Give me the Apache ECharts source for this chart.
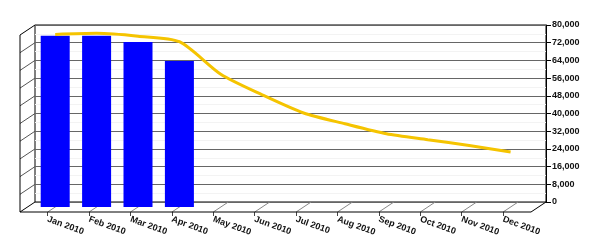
<!DOCTYPE html>
<html><head><meta charset="utf-8">
<script src="https://cdn.jsdelivr.net/npm/echarts@6/dist/echarts.min.js"></script>
<style>html,body{margin:0;padding:0;background:#fff}#c{width:600px;height:250px}</style>
</head><body><div id="c"></div>
<script>
const categories = ['Jan 2010','Feb 2010','Mar 2010','Apr 2010','May 2010','Jun 2010','Jul 2010','Aug 2010','Sep 2010','Oct 2010','Nov 2010','Dec 2010'];
const barValues = [77400, 77400, 74600, 66000, null, null, null, null, null, null, null, null];
const lineValues = [78000, 78500, 77200, 74700, 60000, 50700, 42500, 37600, 33100, 30400, 27800, 24900];
const yTicks = [0, 8000, 16000, 24000, 32000, 40000, 48000, 56000, 64000, 72000, 80000];

const DX = 15, DY = 10;
const back = {left: 35, top: 25, width: 511, height: 177};
const mid = {left: 34.5, top: 30, width: 496.8, height: 177};
const front = {left: 27, top: 35, width: 496.8, height: 177};
const font = '"Liberation Sans", Arial, sans-serif';
const yMin = yTicks[0], yMax = yTicks[yTicks.length - 1], yStep = yTicks[1] - yTicks[0];

function seg(x1, y1, x2, y2, color) {
  return {type: 'line', shape: {x1, y1, x2, y2}, style: {stroke: color, lineWidth: 1}};
}

const chart = echarts.init(document.getElementById('c'), null, {renderer: 'canvas'});
chart.setOption({
  animation: false,
  backgroundColor: '#fff',
  grid: [
    Object.assign({show: true, borderColor: '#000', borderWidth: 1, backgroundColor: '#fff', outerBoundsMode: 'none', containLabel: false}, back),
    Object.assign({outerBoundsMode: 'none', containLabel: false}, mid),
    Object.assign({outerBoundsMode: 'none', containLabel: false}, front)
  ],
  xAxis: [
    {gridIndex: 0, type: 'category', data: categories, show: false},
    {gridIndex: 1, type: 'category', data: categories, show: false},
    {gridIndex: 2, type: 'category', data: categories,
      axisLine: {show: false},
      axisTick: {show: true, alignWithLabel: true, length: 4, lineStyle: {color: '#444'}},
      axisLabel: {rotate: -20, margin: 7, fontSize: 9, fontWeight: 'bold', fontFamily: font, color: '#111', interval: 0},
      splitLine: {show: false}}
  ],
  yAxis: [
    {gridIndex: 0, type: 'value', min: yMin, max: yMax, interval: yStep, position: 'right',
      axisLine: {show: true, lineStyle: {color: '#000'}},
      axisTick: {show: true, length: 5, lineStyle: {color: '#000'}},
      axisLabel: {margin: 6, fontSize: 9, fontWeight: 'bold', fontFamily: font, color: '#111',
        formatter: v => v.toLocaleString('en-US')},
      splitLine: {show: true, lineStyle: {color: '#666'}},
      minorTick: {show: false, splitNumber: 2},
      minorSplitLine: {show: true, lineStyle: {color: '#f3f3f3'}}},
    {gridIndex: 1, type: 'value', min: yMin, max: yMax, show: false, splitLine: {show: false}},
    {gridIndex: 2, type: 'value', min: yMin, max: yMax, show: false, splitLine: {show: false}}
  ],
  series: [
    {type: 'custom', xAxisIndex: 0, yAxisIndex: 0, clip: false, silent: true, z: 1,
      data: yTicks.slice(1, -1).map(v => [0, v]),
      renderItem: (params, api) => {
        const cs = params.coordSys;
        const p = api.coord([0, api.value(1)]);
        return seg(cs.x - DX, p[1] + DY, cs.x, p[1], '#555');
      }},
    {type: 'custom', xAxisIndex: 2, yAxisIndex: 2, clip: false, silent: true, z: 1,
      data: categories.map((c, i) => [i, 0]),
      renderItem: (params, api) => {
        const p = api.coord([api.value(0), 0]);
        return seg(p[0], p[1], p[0] + DX, p[1] - DY, '#888');
      }},
    {type: 'custom', xAxisIndex: 0, yAxisIndex: 0, clip: false, silent: true, z: 4,
      data: [[0, 0]],
      renderItem: (params, api) => {
        const cs = params.coordSys;
        const x = cs.x, y = cs.y, w = cs.width, h = cs.height;
        return {type: 'group', children: [
          seg(x - DX, y + DY, x - DX, y + h + DY, '#000'),
          seg(x - DX, y + DY, x, y, '#000'),
          seg(x - DX, y + h + DY, x, y + h, '#000'),
          seg(x - DX, y + h + DY, x + w - DX, y + h + DY, '#000'),
          seg(x + w - DX, y + h + DY, x + w, y + h, '#000')
        ]};
      }},
    {type: 'bar', xAxisIndex: 1, yAxisIndex: 1, data: barValues, barWidth: 29, z: 2,
      itemStyle: {color: '#0000FF'}},
    {type: 'line', xAxisIndex: 1, yAxisIndex: 1, data: lineValues, smooth: 0.25, symbol: 'none', z: 3,
      lineStyle: {color: '#F5C400', width: 3}}
  ]
});
</script></body></html>
